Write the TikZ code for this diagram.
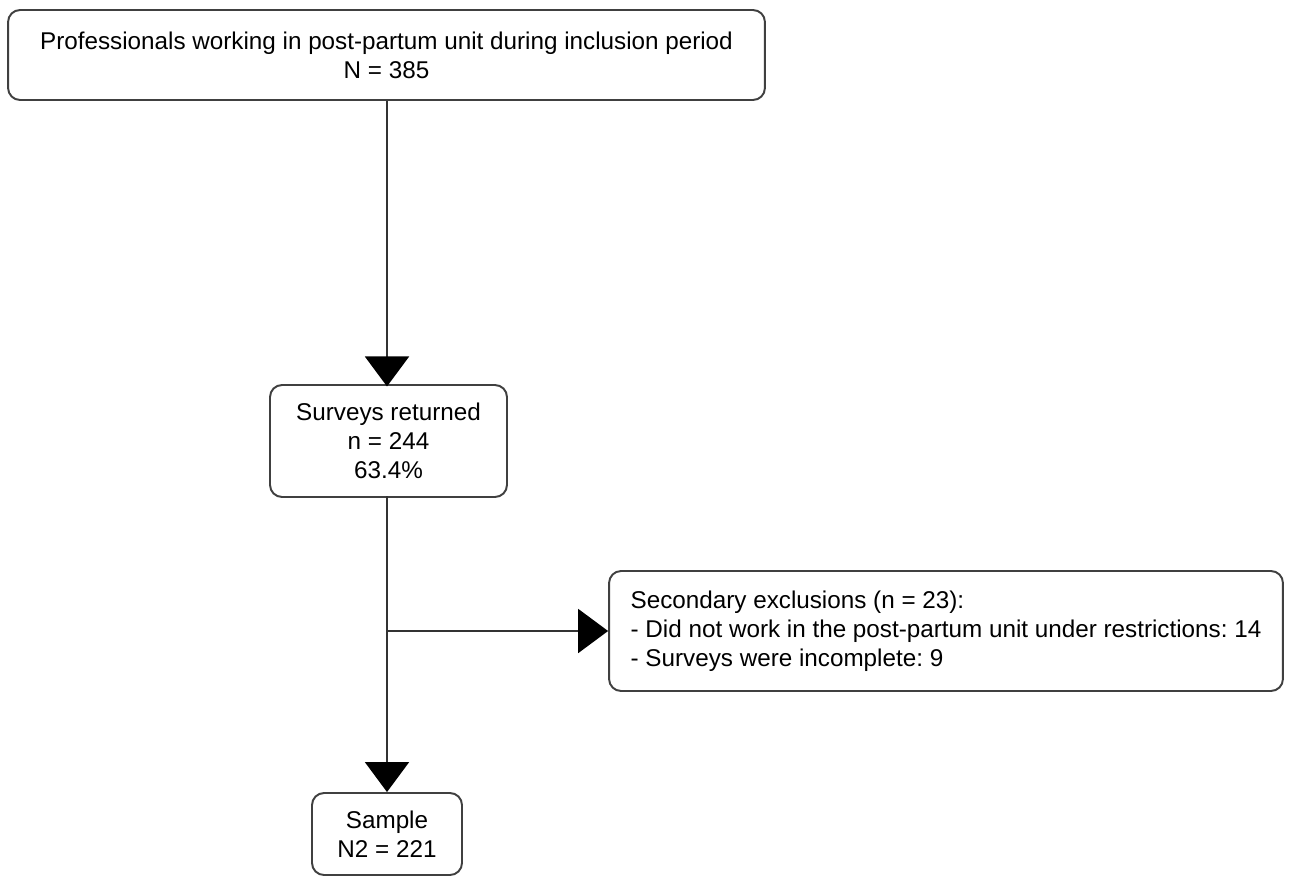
\documentclass[tikz,border=0pt]{standalone}
\usepackage{fontspec}
\setmainfont{Liberation Sans}
\usetikzlibrary{arrows.meta}
\frenchspacing

\tikzset{
  box/.style={draw=black!75, line width=1.1pt, rounded corners=0.24cm, align=center,
    font=\fontsize{13.8}{16.4}\selectfont, inner sep=0pt},
  flow/.style={draw=black!80, line width=1.1pt,
    -{Triangle[length=0.6cm, width=0.88cm, fill=black, color=black]}}
}

\begin{document}
\begin{tikzpicture}[x=0.02cm, y=-0.02cm]
		\useasboundingbox (0,0) rectangle (1290,878);
		\draw (386.5,55) node [box, minimum width=15.14cm, minimum height=1.8cm] (staff)
		{Professionals working in post-partum unit during inclusion period\\ N = 385};
		\draw (388.5,441) node [box, minimum width=4.74cm, minimum height=2.24cm] (returned)
		{Surveys returned\\ n = 244\\ 63.4\%};
		\draw (946,631) node [box, minimum width=13.48cm, minimum height=2.4cm, align=left] (excl)
		{Secondary exclusions (n = 23):\\
		- Did not work in the post-partum unit under restrictions: 14\\
		- Surveys were incomplete: 9};
		\draw (387,834) node [box, minimum width=3cm, minimum height=1.64cm] (sample)
		{Sample\\ N2 = 221};
		\draw [flow] (staff.south -| returned.north) ++(-1.5,0) -- ++(0,285.5);
		\draw [flow] (sample.north) ++(0,-296) -- (sample.north);
		\draw [flow] (sample.north |- excl.west) -- (excl.west);
	\end{tikzpicture}
\end{document}
